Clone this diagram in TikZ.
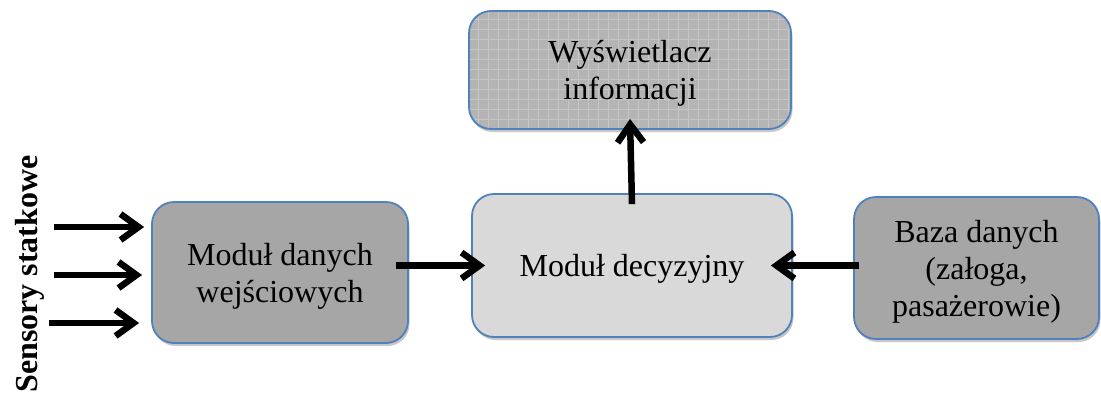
\documentclass[tikz,border=0pt]{standalone}
\usepackage{fontspec}
\setmainfont{Liberation Serif}
\usetikzlibrary{arrows.meta,shadows,calc}
\definecolor{boxline}{HTML}{4F81BD}
\definecolor{darkfill}{HTML}{A6A6A6}
\definecolor{lightfill}{HTML}{D9D9D9}
\definecolor{gridfill}{HTML}{B4B4B4}
\definecolor{gridline}{HTML}{C6C6C6}
\begin{document}
\begin{tikzpicture}[x=1pt,y=-1pt,
  module/.style={draw=boxline, line width=1.8pt, rounded corners=22pt,
    align=center, inner sep=0pt, text depth=0pt,
    font=\fontsize{32}{37}\selectfont,
    drop shadow={shadow xshift=1.5pt, shadow yshift=-3pt, fill=black!40, opacity=0.55}},
  gridded/.style={fill=gridfill,
    path picture={\draw[gridline, line width=1pt]
      (path picture bounding box.south west) grid[step=10pt]
      (path picture bounding box.north east);}},
  arr/.style={line width=6.5pt, -{Straight Barb[length=18pt,width=26pt]}}]
\useasboundingbox (0,0) rectangle (1101,394);

% modules
\node[module, gridded, minimum width=322pt, minimum height=118pt] (top) at (630,70)
  {Wyświetlacz\\informacji};
\node[module, fill=darkfill, minimum width=256pt, minimum height=141pt] (lm) at (280,272.5)
  {Moduł danych\\wejściowych};
\node[module, fill=lightfill, minimum width=320pt, minimum height=143pt] (md) at (632,265.5)
  {Moduł decyzyjny};
\node[module, fill=darkfill, minimum width=245pt, minimum height=142pt] (rb) at (976.5,268)
  {Baza danych\\(załoga,\\pasażerowie)};

% sensor inputs
\node[rotate=90, font=\bfseries\fontsize{32}{37}\selectfont, inner sep=0pt] (lbl) at (30,274)
  {Sensory statkowe};
\coordinate (s1) at (54,227);
\coordinate (s2) at (54,275);
\coordinate (s3) at (49,323);
\draw[arr] (s1) -- ($(s1 -| lm.west)+(-7,0)$);
\draw[arr] (s2) -- ($(s2 -| lm.west)+(-9,0)$);
\draw[arr] (s3) -- ($(s3 -| lm.west)+(-12,0)$);

% data flow between modules
\draw[arr] ($(lm.east |- md.west)+(-13,0)$) -- ($(md.west)+(14,0)$);
\draw[arr] ($(rb.west |- md.east)+(6,0)$) -- ($(md.east)+(-22,0)$);
\draw[arr] ($(md.north)+(0,11)$) -- ($(top.south)+(0,-11)$);
\end{tikzpicture}
\end{document}
